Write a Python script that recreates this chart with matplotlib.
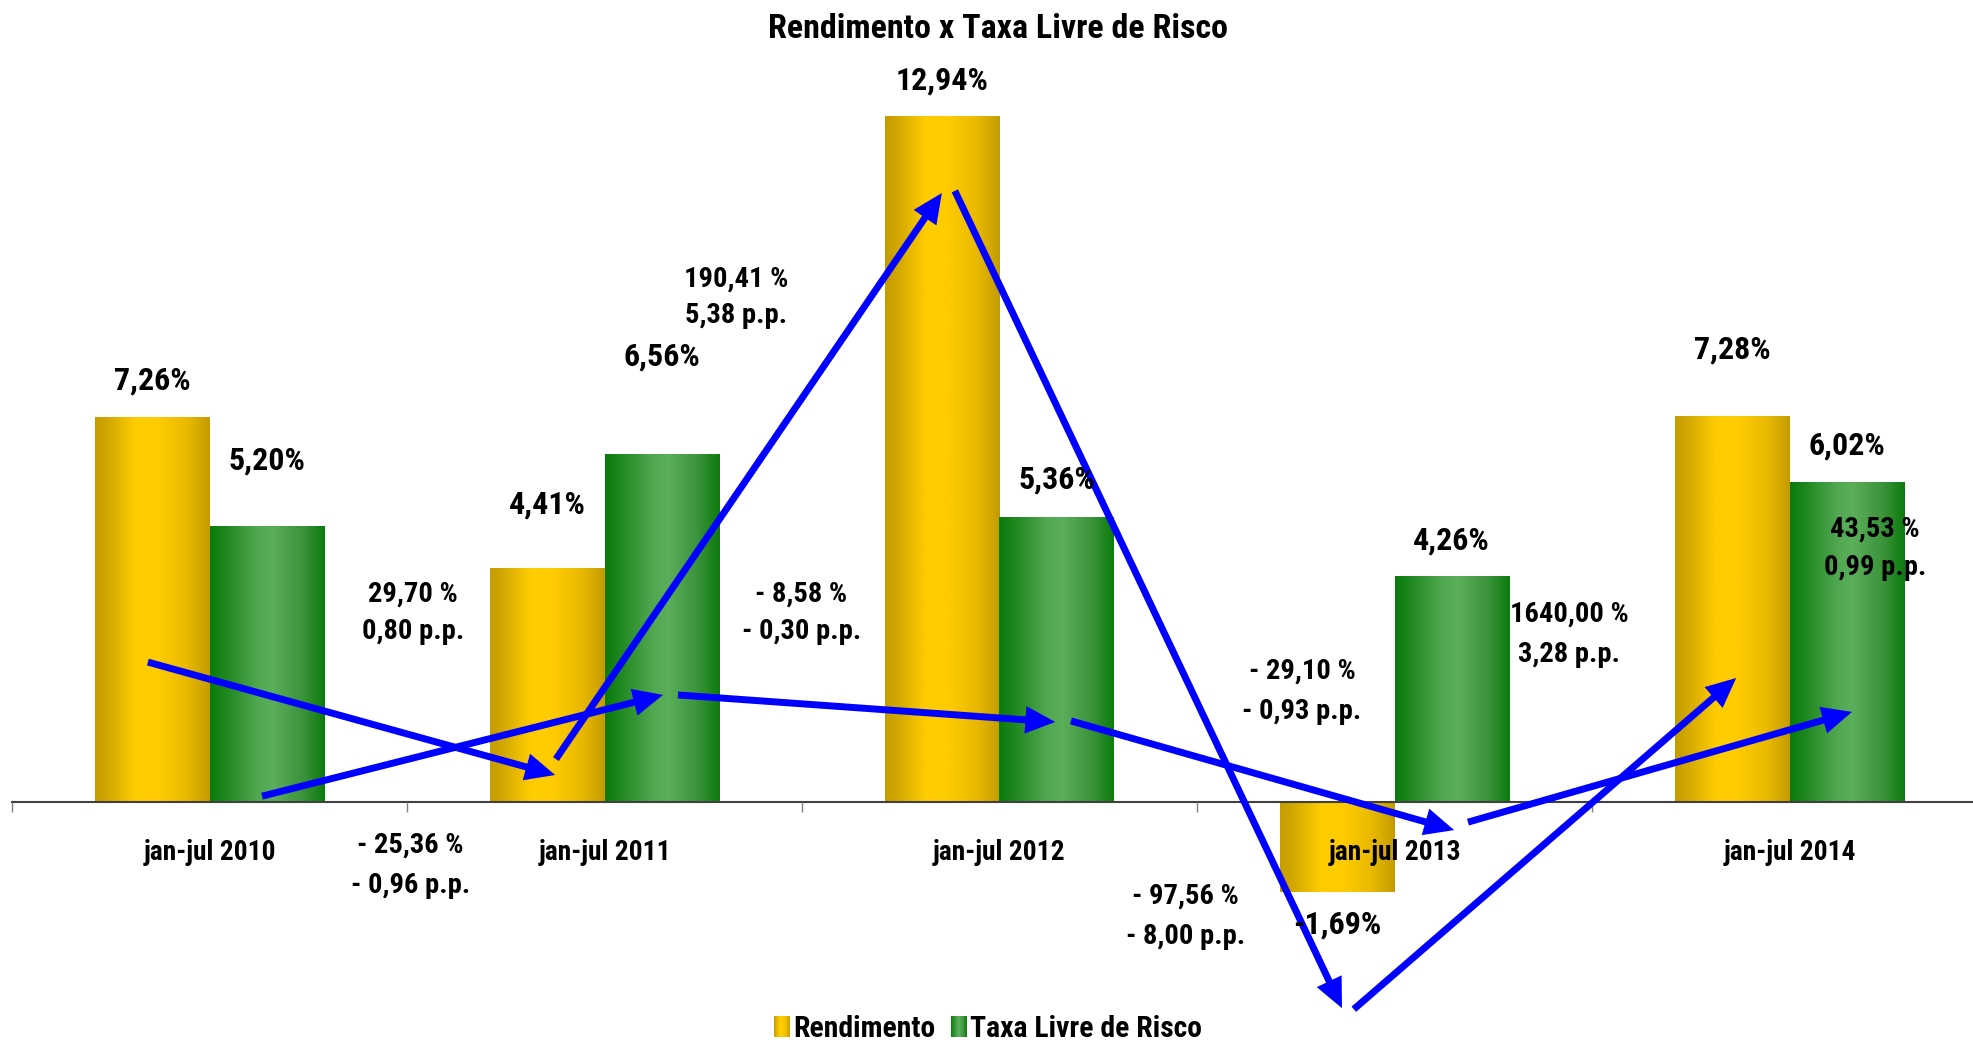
import numpy as np
import matplotlib
matplotlib.use("Agg")
import matplotlib.pyplot as plt
from matplotlib.colors import LinearSegmentedColormap
from matplotlib.patches import FancyArrowPatch, Rectangle
from matplotlib.legend_handler import HandlerBase

# ---------------- data ----------------
categories = ["jan-jul 2010", "jan-jul 2011", "jan-jul 2012", "jan-jul 2013", "jan-jul 2014"]
rendimento = [7.26, 4.41, 12.94, -1.69, 7.28]
taxa_livre = [5.20, 6.56, 5.36, 4.26, 6.02]
series_names = ["Rendimento", "Taxa Livre de Risco"]

# variation annotations (relative change, change in p.p.)
var_text = [("29,70 %", "0,80 p.p."),
            ("- 25,36 %", "- 0,96 p.p."),
            ("190,41 %", "5,38 p.p."),
            ("- 8,58 %", "- 0,30 p.p."),
            ("- 29,10 %", "- 0,93 p.p."),
            ("- 97,56 %", "- 8,00 p.p."),
            ("1640,00 %", "3,28 p.p."),
            ("43,53 %", "0,99 p.p.")]

# ---------------- layout (positions in data units) ----------------
bar_w = 0.289
rend_label_dy = [0.70, 1.21, 0.68, -0.63, 1.25]
taxa_label_dy = [1.25, 1.84, 0.72, 0.68, 0.70]
var_pos = [(0.515, 3.92, 3.21), (0.508, -0.81, -1.57), (1.333, 9.87, 9.17),
           (1.498, 3.92, 3.21), (2.766, 2.47, 1.70), (2.470, -1.77, -2.53),
           (3.442, 3.55, 2.79), (4.216, 5.15, 4.42)]
arrows = [((-0.156, 2.64), (0.875, 0.51)),
          ((0.133, 0.11), (1.148, 2.02)),
          ((0.877, 0.81), (1.854, 11.49)),
          ((1.186, 2.02), (2.141, 1.51)),
          ((1.887, 11.53), (2.867, -3.89)),
          ((2.181, 1.53), (3.151, -0.53)),
          ((2.897, -3.91), (3.865, 2.34)),
          ((3.186, -0.38), (4.158, 1.70))]

FONT = ['Roboto Condensed', 'DejaVu Sans']
plt.rcParams['font.family'] = FONT
plt.rcParams['font.weight'] = 'bold'

gold_cmap = LinearSegmentedColormap.from_list(
    "gold", [(0.0, "#C49C00"), (0.12, "#D4A900"), (0.35, "#FFCC00"),
             (0.55, "#FFCC00"), (0.8, "#E9B900"), (1.0, "#C49C00")])
green_cmap = LinearSegmentedColormap.from_list(
    "green", [(0.0, "#0A7A0A"), (0.12, "#1D861D"), (0.42, "#52A852"),
              (0.55, "#5BAE5B"), (0.8, "#3D943D"), (1.0, "#0C7C0C")])
grad = np.linspace(0, 1, 256).reshape(1, -1)

W, H = 1973, 1043
fig = plt.figure(figsize=(W / 100, H / 100), dpi=100)
ax = fig.add_axes([12 / W, 2.5 / H, 1975 / W, 19.5 * 53 / H])

x = np.arange(len(categories))
b1 = ax.bar(x - bar_w / 2, rendimento, bar_w, color='none', edgecolor='none', label=series_names[0])
b2 = ax.bar(x + bar_w / 2, taxa_livre, bar_w, color='none', edgecolor='none', label=series_names[1])
for bars, cmap in ((b1, gold_cmap), (b2, green_cmap)):
    for p in bars:
        x0, y0, w, h = p.get_x(), p.get_y(), p.get_width(), p.get_height()
        ax.imshow(grad, cmap=cmap, extent=(x0, x0 + w, y0, y0 + h), aspect='auto',
                  interpolation='bilinear', zorder=2)

VAL_FS = 23
VAR_FS = 20.5
CAT_FS = 19.8

# value labels
for i, v in enumerate(rendimento):
    ax.text(x[i] - bar_w / 2, v + rend_label_dy[i], f"{v:.2f}".replace('.', ',') + "%",
            ha='center', va='center', fontsize=VAL_FS, fontweight='bold', zorder=6)
for i, v in enumerate(taxa_livre):
    ax.text(x[i] + bar_w / 2, v + taxa_label_dy[i], f"{v:.2f}".replace('.', ',') + "%",
            ha='center', va='center', fontsize=VAL_FS, fontweight='bold', zorder=6)

# variation labels
for (t1, t2), (px, py1, py2) in zip(var_text, var_pos):
    ax.text(px, py1, t1, ha='center', va='center', fontsize=VAR_FS, fontweight='bold', zorder=6)
    ax.text(px, py2, t2, ha='center', va='center', fontsize=VAR_FS, fontweight='bold', zorder=6)

# arrows
for a, b in arrows:
    ar = FancyArrowPatch(a, b, arrowstyle='-|>,head_length=1.3,head_width=0.6',
                         mutation_scale=10, color='#0000FF', lw=5, shrinkA=0, shrinkB=0,
                         zorder=5, joinstyle='miter', capstyle='butt')
    ax.add_patch(ar)

ax.set_xlim(-0.5, 4.5)
ax.set_ylim(-4.5, 15)
for s in ('left', 'right', 'top'):
    ax.spines[s].set_visible(False)
ax.spines['bottom'].set_position(('data', 0))
ax.spines['bottom'].set_color('#404040')
ax.spines['bottom'].set_linewidth(1.5)
ax.spines['bottom'].set_zorder(3)
ax.set_yticks([])
ax.set_xticks(np.arange(len(categories) + 1) - 0.5)
ax.set_xticklabels([])
ax.tick_params(axis='x', which='major', length=7, width=1, color='#808080', direction='out')
ax.set_xticks(x, minor=True)
ax.set_xticklabels(categories, minor=True, fontsize=CAT_FS, fontweight='bold')
ax.tick_params(axis='x', which='minor', length=0, pad=27)
ax.xaxis.set_zorder(4)
ax.patch.set_alpha(0)

fig.text(998 / W, 1 - 29 / H, "Rendimento x Taxa Livre de Risco", ha='center', va='center',
         fontsize=24.5, fontweight='bold')


class GradHandler(HandlerBase):
    def __init__(self, cmap):
        super().__init__()
        self.cmap = cmap

    def create_artists(self, legend, orig_handle, xdescent, ydescent, width, height, fontsize, trans):
        n = 12
        x0 = -xdescent
        y0 = -ydescent
        arts = []
        for k in range(n):
            r = Rectangle((x0 + width * k / n, y0), width / n + 0.3, height,
                          facecolor=self.cmap((k + 0.5) / n), edgecolor='none', transform=trans)
            arts.append(r)
        return arts


leg = fig.legend([b1, b2], series_names, loc='center', bbox_to_anchor=(988 / W, 1 - 1029 / H),
                 ncol=2, frameon=False, fontsize=21.3, handlelength=0.55, handleheight=0.72,
                 handletextpad=0.12, columnspacing=0.5, borderpad=0, borderaxespad=0,
                 handler_map={b1: GradHandler(gold_cmap), b2: GradHandler(green_cmap)})

fig.savefig("out.png", dpi=100)
